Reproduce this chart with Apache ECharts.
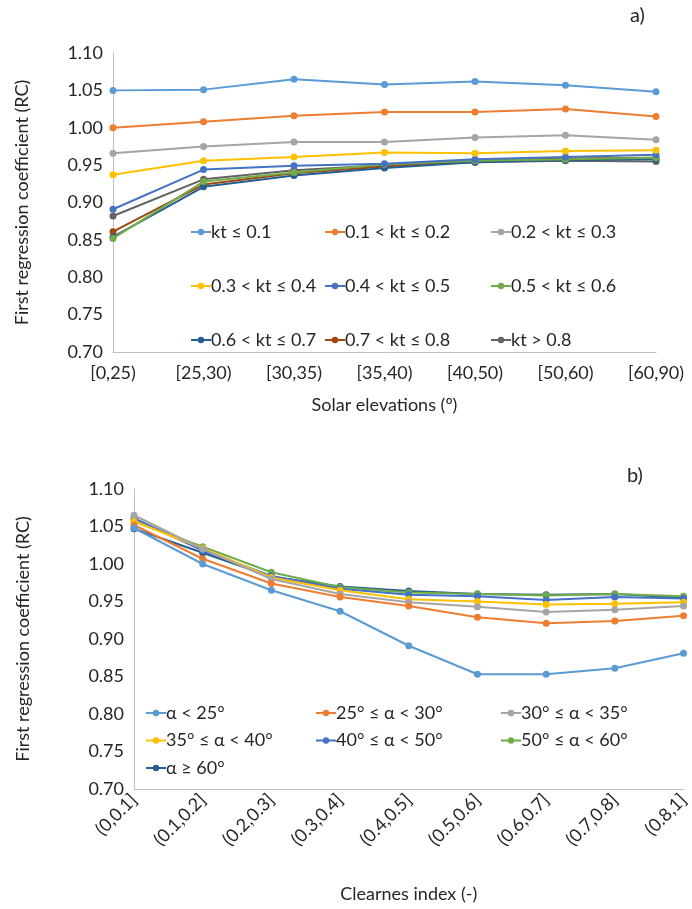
<!DOCTYPE html>
<html>
<head>
<meta charset="utf-8">
<script src="https://cdn.jsdelivr.net/npm/echarts@6/dist/echarts.min.js"></script>
<style>
html,body{margin:0;padding:0;background:#fff;}
#main{width:692px;height:909px;}
</style>
</head>
<body>
<div id="main"></div>
<script>
// ---- Chart a) data ----
var catsA = ['[0,25)', '[25,30)', '[30,35)', '[35,40)', '[40,50)', '[50,60)', '[60,90)'];
var namesA = ['kt ≤ 0.1', '0.1 < kt ≤ 0.2', '0.2 < kt ≤ 0.3', '0.3 < kt ≤ 0.4', '0.4 < kt ≤ 0.5', '0.5 < kt ≤ 0.6', '0.6 < kt ≤ 0.7', '0.7 < kt ≤ 0.8', 'kt > 0.8'];
var a_kt01 = [1.050, 1.051, 1.065, 1.058, 1.062, 1.057, 1.048];
var a_kt02 = [1.000, 1.008, 1.016, 1.021, 1.021, 1.025, 1.015];
var a_kt03 = [0.966, 0.975, 0.981, 0.981, 0.987, 0.990, 0.984];
var a_kt04 = [0.937, 0.956, 0.961, 0.967, 0.966, 0.969, 0.970];
var a_kt05 = [0.891, 0.944, 0.949, 0.952, 0.958, 0.961, 0.964];
var a_kt06 = [0.852, 0.928, 0.940, 0.951, 0.956, 0.958, 0.960];
var a_kt07 = [0.854, 0.921, 0.936, 0.946, 0.954, 0.957, 0.958];
var a_kt08 = [0.861, 0.924, 0.939, 0.948, 0.956, 0.959, 0.960];
var a_kt09 = [0.882, 0.931, 0.943, 0.950, 0.954, 0.956, 0.955];
var valuesA = [a_kt01, a_kt02, a_kt03, a_kt04, a_kt05, a_kt06, a_kt07, a_kt08, a_kt09];

// ---- Chart b) data ----
var catsB = ['(0,0.1]', '(0.1,0.2]', '(0.2,0.3]', '(0.3,0.4]', '(0.4,0.5]', '(0.5,0.6]', '(0.6,0.7]', '(0.7,0.8]', '(0.8,1]'];
var namesB = ['α < 25°', '25° ≤ α < 30°', '30° ≤ α < 35°', '35° ≤ α < 40°', '40° ≤ α < 50°', '50° ≤ α < 60°', 'α ≥ 60°'];
var b_a25 = [1.048, 1.000, 0.965, 0.937, 0.891, 0.853, 0.853, 0.861, 0.881];
var b_a30 = [1.052, 1.007, 0.974, 0.956, 0.944, 0.929, 0.921, 0.924, 0.931];
var b_a35 = [1.065, 1.020, 0.980, 0.960, 0.949, 0.943, 0.936, 0.939, 0.944];
var b_a40 = [1.057, 1.021, 0.982, 0.965, 0.953, 0.950, 0.946, 0.947, 0.949];
var b_a50 = [1.061, 1.018, 0.984, 0.967, 0.959, 0.957, 0.952, 0.956, 0.954];
var b_a60 = [1.057, 1.023, 0.989, 0.969, 0.962, 0.960, 0.958, 0.960, 0.957];
var b_a90 = [1.047, 1.015, 0.983, 0.970, 0.964, 0.960, 0.959, 0.960, 0.955];
var valuesB = [b_a25, b_a30, b_a35, b_a40, b_a50, b_a60, b_a90];

var yTicks = {min: 0.70, max: 1.10, interval: 0.05};

var colorsA = ['#5B9BD5', '#ED7D31', '#A5A5A5', '#FFC000', '#4472C4', '#70AD47', '#255E91', '#9E480E', '#636363'];
var colorsB = ['#5B9BD5', '#ED7D31', '#A5A5A5', '#FFC000', '#4472C4', '#70AD47', '#255E91'];

var FONT = 'Lato, "Open Sans", sans-serif';
var FS = 18;
var TXT = '#262626';

function mkSeries(names, values, colors, idx) {
  return names.map(function (n, i) {
    return {
      name: n, type: 'line', xAxisIndex: idx, yAxisIndex: idx,
      data: values[i], symbol: 'circle', symbolSize: 7,
      lineStyle: {width: 2, color: colors[i]},
      itemStyle: {color: colors[i]},
      z: 10 - i + 2
    };
  });
}

function mkLegend(data, left, top, gap) {
  return {
    data: data, orient: 'vertical', left: left, top: top, itemGap: gap,
    itemWidth: 20, itemHeight: 8, padding: 0,
    textStyle: {fontFamily: FONT, fontSize: FS, color: TXT, lineHeight: 20, padding: [0,0,0,-5]}
  };
}

var chart = echarts.init(document.getElementById('main'), null, {renderer: 'canvas'});
var yAxisCommon = {
  type: 'value', min: yTicks.min, max: yTicks.max, interval: yTicks.interval,
  axisLine: {show: true, lineStyle: {color: '#BFBFBF', width: 1}},
  axisTick: {show: false}, splitLine: {show: false},
  axisLabel: {fontFamily: FONT, fontSize: FS, color: TXT, margin: 10,
    formatter: function (v) { return v.toFixed(2); }},
  name: 'First regression coefficient (RC)', nameLocation: 'middle',
  nameTextStyle: {fontFamily: FONT, fontSize: FS, color: TXT}
};

var option = {
  animation: false,
  backgroundColor: '#fff',
  grid: [
    {left: 113, right: 36, top: 53, height: 299},
    {left: 134, right: 4, top: 489, height: 300}
  ],
  xAxis: [
    {type: 'category', gridIndex: 0, data: catsA, boundaryGap: false,
      axisLine: {lineStyle: {color: '#BFBFBF'}}, axisTick: {show: false},
      axisLabel: {fontFamily: FONT, fontSize: FS, color: TXT, margin: 12},
      name: 'Solar elevations (º)', nameLocation: 'middle', nameGap: 44,
      nameTextStyle: {fontFamily: FONT, fontSize: FS, color: TXT}},
    {type: 'category', gridIndex: 1, data: catsB, boundaryGap: false,
      axisLine: {lineStyle: {color: '#BFBFBF'}}, axisTick: {show: false},
      axisLabel: {fontFamily: FONT, fontSize: FS, color: TXT, margin: 8, rotate: 45},
      name: 'Clearnes index (-)', nameLocation: 'middle', nameGap: 96,
      nameTextStyle: {fontFamily: FONT, fontSize: FS, color: TXT}}
  ],
  yAxis: [
    Object.assign({}, yAxisCommon, {gridIndex: 0, nameGap: 82}),
    Object.assign({}, yAxisCommon, {gridIndex: 1, nameGap: 102})
  ],
  legend: [
    mkLegend([namesA[0], namesA[3], namesA[6]], 190, 222, 34),
    mkLegend([namesA[1], namesA[4], namesA[7]], 324, 222, 34),
    mkLegend([namesA[2], namesA[5], namesA[8]], 490, 222, 34),
    mkLegend([namesB[0], namesB[3], namesB[6]], 145, 703, 7.5),
    mkLegend([namesB[1], namesB[4]], 315, 703, 7.5),
    mkLegend([namesB[2], namesB[5]], 500, 703, 7.5)
  ],
  graphic: [
    {type: 'text', left: 630, top: 6, style: {text: 'a)', font: '20px ' + FONT, fill: TXT}},
    {type: 'text', left: 627, top: 466, style: {text: 'b)', font: '20px ' + FONT, fill: TXT}}
  ],
  series: mkSeries(namesA, valuesA, colorsA, 0).concat(mkSeries(namesB, valuesB, colorsB, 1))
};
chart.setOption(option);
</script>
</body>
</html>
